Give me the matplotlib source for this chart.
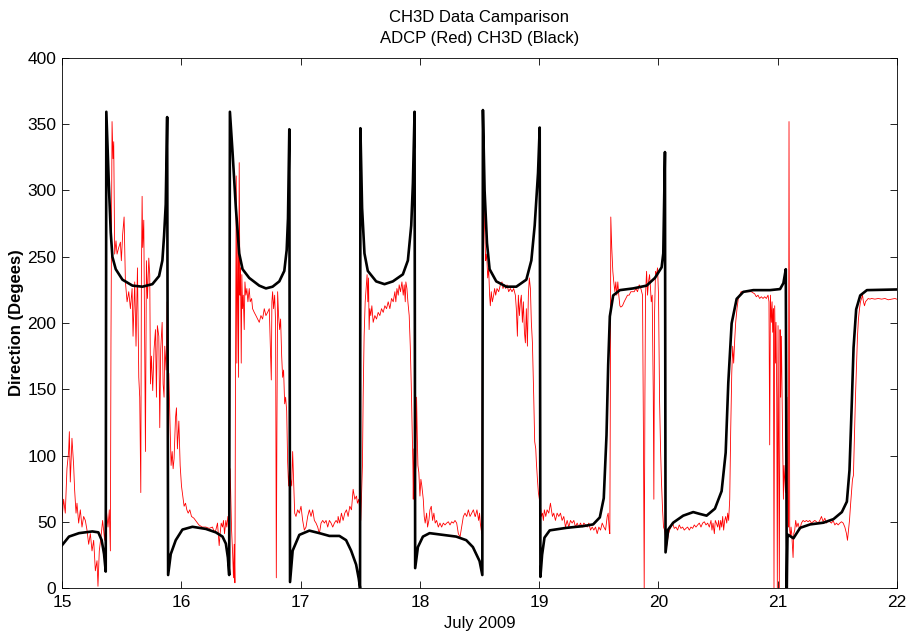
import matplotlib
matplotlib.use("Agg")
import matplotlib.pyplot as plt

plt.rcParams['font.family'] = ['Liberation Sans Narrow', 'Liberation Sans', 'DejaVu Sans']

# CH3D model (black)
black_t = [15.000, 15.059, 15.143, 15.255, 15.305, 15.333, 15.353, 15.367, 15.372, 15.395,
           15.409, 15.423, 15.451, 15.507, 15.591, 15.675, 15.758, 15.814, 15.842, 15.856,
           15.870, 15.882, 15.890, 15.912, 15.954, 16.010, 16.094, 16.206, 16.290, 16.346,
           16.374, 16.391, 16.402, 16.408, 16.430, 16.458, 16.486, 16.514, 16.570, 16.654,
           16.710, 16.766, 16.822, 16.864, 16.884, 16.895, 16.906, 16.912, 16.934, 16.990,
           17.074, 17.158, 17.242, 17.326, 17.382, 17.424, 17.466, 17.488, 17.499, 17.502,
           17.516, 17.536, 17.564, 17.634, 17.704, 17.774, 17.858, 17.900, 17.928, 17.942,
           17.956, 17.961, 17.984, 18.026, 18.082, 18.193, 18.305, 18.389, 18.445, 18.501,
           18.524, 18.529, 18.543, 18.563, 18.585, 18.641, 18.725, 18.809, 18.893, 18.935,
           18.963, 18.991, 19.005, 19.011, 19.025, 19.045, 19.089, 19.229, 19.369, 19.453,
           19.509, 19.542, 19.565, 19.579, 19.593, 19.621, 19.677, 19.789, 19.901, 19.971,
           20.027, 20.041, 20.055, 20.060, 20.082, 20.124, 20.208, 20.292, 20.348, 20.404,
           20.474, 20.530, 20.564, 20.586, 20.614, 20.656, 20.712, 20.796, 20.936, 21.020,
           21.048, 21.068, 21.076, 21.082, 21.090, 21.132, 21.188, 21.272, 21.384, 21.468,
           21.538, 21.580, 21.602, 21.622, 21.636, 21.658, 21.692, 21.748, 22.000]
black_v = [32.2, 38.8, 41.4, 42.7, 42.0, 36.1, 25.6, 12.4, 359.4, 300,
           268.3, 249.9, 240.6, 232.7, 228.2, 227.4, 229.3, 235.4, 247.2, 265.7,
           289.4, 355.4, 9.8, 25.6, 36.1, 44.1, 46.2, 44.6, 42.0, 38.8,
           33.5, 23.0, 9.8, 359.4, 329, 286.8, 252.5, 240.6, 234, 228.2,
           226.1, 227.4, 231.4, 239.3, 255.1, 278.9, 346.2, 4.5, 28.2, 40.1,
           43.3, 41.4, 39.3, 39.3, 36.1, 28.2, 17.7, 7.1, 0, 347,
           286.8, 252.5, 239.3, 231.4, 229.3, 231.4, 236.7, 247.2, 273.6, 305.3,
           359.4, 15.0, 30.9, 38.8, 41.4, 40.1, 38.8, 36.1, 30.9, 20.3,
           9.8, 360.7, 300, 260.4, 240.6, 231.4, 227.4, 227.4, 232.7, 247.2,
           273.6, 313.2, 347.5, 8.4, 25, 38, 43.5, 45.4, 46.7, 48.0,
           53.3, 67.8, 115.3, 168.1, 205, 220.8, 224.8, 226.1, 228.2, 234,
           242, 252.5, 329, 26.9, 44.1, 49.3, 54.6, 57.3, 55.9, 54.6,
           59.9, 73.1, 102.1, 154.9, 199.7, 218.2, 223.5, 224.8, 224.8, 225.6,
           230.1, 240.6, 0, 38, 40.1, 37.5, 45.4, 48, 49.3, 52,
           57.3, 65.2, 88.9, 141.7, 181.3, 210.3, 220.8, 224.8, 225.3]

# ADCP measurements (red)
red_t = [15.000, 15.014, 15.028, 15.042, 15.056, 15.062, 15.070, 15.084, 15.098, 15.106,
         15.118, 15.126, 15.140, 15.154, 15.168, 15.182, 15.196, 15.210, 15.224, 15.238,
         15.252, 15.266, 15.280, 15.294, 15.302, 15.313, 15.330, 15.341, 15.358, 15.372,
         15.386, 15.397, 15.406, 15.411, 15.420, 15.428, 15.434, 15.442, 15.453, 15.462,
         15.476, 15.490, 15.498, 15.509, 15.521, 15.532, 15.546, 15.560, 15.574, 15.588,
         15.596, 15.610, 15.621, 15.633, 15.644, 15.652, 15.661, 15.666, 15.672, 15.677,
         15.686, 15.694, 15.700, 15.708, 15.717, 15.728, 15.736, 15.742, 15.750, 15.761,
         15.772, 15.784, 15.792, 15.800, 15.812, 15.820, 15.828, 15.840, 15.848, 15.856,
         15.862, 15.873, 15.882, 15.887, 15.896, 15.904, 15.915, 15.924, 15.932, 15.940,
         15.952, 15.960, 15.968, 15.980, 15.991, 16.002, 16.013, 16.024, 16.036, 16.047,
         16.058, 16.072, 16.086, 16.106, 16.120, 16.148, 16.176,
         16.206, 16.234, 16.262, 16.276, 16.290, 16.304, 16.318, 16.326, 16.335, 16.346,
         16.354, 16.363, 16.374, 16.382, 16.391, 16.402, 16.410, 16.416, 16.422, 16.430,
         16.438, 16.444, 16.450, 16.455, 16.461, 16.466, 16.475, 16.480, 16.486, 16.492,
         16.497, 16.503, 16.508, 16.514, 16.520, 16.528, 16.534, 16.542, 16.550, 16.559,
         16.570, 16.578, 16.590, 16.598, 16.612, 16.626, 16.640, 16.654, 16.668, 16.682,
         16.696, 16.710, 16.724, 16.738, 16.749, 16.755, 16.760, 16.766, 16.774, 16.783,
         16.791, 16.797, 16.802, 16.808, 16.816, 16.825, 16.833, 16.842, 16.850, 16.858,
         16.867, 16.875, 16.884, 16.892, 16.900, 16.909, 16.917, 16.926, 16.934, 16.942,
         16.951, 16.962, 16.976, 16.990, 17.004, 17.018, 17.032, 17.046, 17.060, 17.074,
         17.088, 17.102, 17.116, 17.130, 17.144, 17.158, 17.172, 17.186, 17.200, 17.214,
         17.228, 17.242, 17.256, 17.270, 17.284, 17.298, 17.312,
         17.315, 17.329, 17.343, 17.357, 17.371, 17.385, 17.399, 17.413, 17.427, 17.441,
         17.455, 17.469, 17.477, 17.488, 17.497, 17.505, 17.511, 17.519, 17.525, 17.533,
         17.542, 17.550, 17.558, 17.564, 17.570, 17.575, 17.581, 17.589, 17.598, 17.609,
         17.623, 17.637, 17.651, 17.665, 17.679, 17.693, 17.707, 17.721, 17.735, 17.749,
         17.763, 17.777, 17.791, 17.799, 17.808, 17.819, 17.827, 17.838, 17.850, 17.861,
         17.869, 17.878, 17.883, 17.892, 17.900, 17.911, 17.920, 17.928, 17.936, 17.942,
         17.945, 17.950, 17.956, 17.962, 17.967, 17.973, 17.978, 17.984, 17.992, 18.001,
         18.009, 18.017, 18.029, 18.037, 18.045, 18.057, 18.065, 18.076, 18.085, 18.096,
         18.107, 18.118, 18.129, 18.141, 18.155, 18.169, 18.183, 18.197, 18.211, 18.225,
         18.239, 18.253, 18.267, 18.281, 18.295, 18.309, 18.323, 18.337, 18.351, 18.365,
         18.379, 18.393, 18.407, 18.421, 18.435, 18.449, 18.463,
         18.465, 18.479, 18.493, 18.501, 18.507, 18.515, 18.521, 18.527, 18.532, 18.538,
         18.543, 18.552, 18.557, 18.563, 18.569, 18.577, 18.585, 18.591, 18.599, 18.608,
         18.619, 18.627, 18.636, 18.647, 18.661, 18.675, 18.689, 18.697, 18.709, 18.720,
         18.731, 18.745, 18.759, 18.773, 18.787, 18.801, 18.809, 18.818, 18.826, 18.835,
         18.843, 18.851, 18.860, 18.868, 18.877, 18.885, 18.893, 18.902, 18.910, 18.918,
         18.927, 18.935, 18.944, 18.955, 18.963, 18.972, 18.977, 18.986, 18.994, 19.002,
         19.011, 19.019, 19.028, 19.036, 19.044, 19.056, 19.067, 19.081, 19.095, 19.103,
         19.112, 19.123, 19.137, 19.151, 19.165, 19.179, 19.193, 19.207, 19.221, 19.235,
         19.249, 19.263, 19.277, 19.291, 19.305, 19.319, 19.333, 19.347, 19.361, 19.375,
         19.389, 19.403, 19.417, 19.431, 19.445, 19.459, 19.473, 19.487, 19.501, 19.515,
         19.529, 19.543, 19.557, 19.571, 19.579, 19.588, 19.593, 19.597,
         19.601, 19.609, 19.618, 19.626, 19.635, 19.643, 19.651, 19.660, 19.668, 19.677,
         19.685, 19.699, 19.713, 19.727, 19.741, 19.755, 19.769, 19.783, 19.797, 19.811,
         19.825, 19.839, 19.853, 19.867, 19.875, 19.881, 19.887, 19.892, 19.901, 19.909,
         19.917, 19.926, 19.934, 19.940, 19.948, 19.957, 19.962, 19.968, 19.976, 19.984,
         19.993, 20.001, 20.010, 20.018, 20.026, 20.035, 20.043, 20.052, 20.060, 20.068,
         20.077, 20.085, 20.094, 20.105, 20.119, 20.133, 20.147, 20.161, 20.175, 20.189,
         20.203, 20.217, 20.231, 20.245, 20.259, 20.273, 20.287, 20.301, 20.315, 20.329,
         20.343, 20.357, 20.371, 20.385, 20.399, 20.413, 20.427, 20.441, 20.449, 20.458,
         20.469, 20.477, 20.486, 20.497, 20.505, 20.514, 20.522, 20.531, 20.539, 20.547,
         20.556, 20.564, 20.573, 20.581, 20.589, 20.598, 20.606, 20.615, 20.623, 20.631,
         20.640, 20.648, 20.659, 20.670, 20.682, 20.693, 20.721, 20.749,
         20.779, 20.807, 20.821, 20.835, 20.849, 20.863, 20.877, 20.891, 20.905, 20.919,
         20.927, 20.933, 20.939, 20.947, 20.953, 20.958, 20.964, 20.969, 20.975, 20.981,
         20.986, 20.992, 20.997, 21.003, 21.009, 21.014, 21.020, 21.025, 21.031, 21.037,
         21.042, 21.048, 21.053, 21.059, 21.065, 21.070, 21.078, 21.084, 21.090, 21.095,
         21.101, 21.107, 21.112, 21.118, 21.123, 21.129, 21.135, 21.143, 21.151, 21.160,
         21.171, 21.185, 21.199, 21.213, 21.227, 21.241, 21.255, 21.269, 21.283, 21.297,
         21.311, 21.325, 21.339, 21.353, 21.367, 21.381, 21.395, 21.409, 21.423, 21.437,
         21.451, 21.465, 21.479, 21.493, 21.507, 21.521, 21.535, 21.549, 21.563, 21.577,
         21.585, 21.594, 21.602, 21.610, 21.619, 21.627, 21.635, 21.644, 21.652, 21.661,
         21.669, 21.677, 21.686, 21.694, 21.703, 21.711, 21.719, 21.728, 21.736, 21.745,
         21.759, 21.773, 21.787, 21.815, 21.843, 21.871, 21.899, 21.927, 21.955, 21.983,
         21.997]
red_v = [51, 67, 56.5, 90, 103, 118, 80, 113, 92.5, 74.5,
         56.5, 64, 49, 59, 46, 54, 51, 43.7, 33, 41,
         28, 36, 13, 20.6, 1.3, 28, 41, 51, 36, 59,
         46, 59, 28, 187.6, 352, 324, 336.8, 252, 262, 252,
         257, 261, 247, 267, 280, 231, 216, 223.6, 210.8, 226,
         190, 231, 182.5, 241.6, 159, 144, 72, 234, 295.6, 257,
         277.6, 182.5, 103, 247, 218.5, 249, 236.5, 154, 175, 149,
         180, 195, 144, 198, 190, 121, 180, 200.5, 154, 144,
         182.5, 164.5, 216, 144, 162, 131, 92.5, 103, 90, 97.7,
         128.5, 136, 105, 126, 92.5, 77, 69.4, 61.7, 64, 59,
         56.5, 59, 54, 52.7, 51, 47.6, 46,
         46, 45, 46, 42.4, 43.7, 49, 32, 41, 49, 46,
         51, 41, 51, 46, 54, 43.7, 90, 67, 43.7, 28,
         7.7, 33, 3.9, 162, 311, 169.7, 270, 159, 321, 221,
         241.6, 169.7, 236.5, 210.8, 221, 195, 231, 221, 226, 216,
         226, 216, 218.5, 210.8, 208, 205.6, 203, 200.5, 205.6, 203,
         210.8, 205.6, 208, 210.8, 177, 157, 216, 223.6, 210.8, 221,
         200.5, 7.7, 118, 223.6, 205.6, 195, 203, 175, 159, 164.5,
         139, 144, 133.7, 95, 77, 92.5, 82, 77, 103, 82,
         56.5, 54, 59, 56.5, 61.7, 51, 43.7, 46, 54, 59,
         54, 59, 51, 49, 46, 41, 49, 51, 49, 51,
         46, 51, 49, 46, 49, 51, 49,
         54, 49, 56.5, 51, 56.5, 59, 54, 61.7, 59, 74.5,
         67, 69.4, 64, 67, 59, 51, 69.4, 92.5, 144, 190,
         216, 226, 236.5, 216, 234, 195, 210.8, 205.6, 213, 200.5,
         205.6, 203, 208, 205.6, 210.8, 208, 213, 210.8, 216, 210.8,
         218.5, 216, 223.6, 216, 226, 221, 228.8, 223.6, 231, 221,
         228.8, 216, 231, 226, 216, 205.6, 182.5, 154, 121, 92.5,
         67, 105, 72, 85, 92.5, 144, 118, 92.5, 87, 69.4,
         82, 77, 67, 54, 49, 56.5, 46, 51, 59, 61.7,
         51, 56.5, 49, 51, 46, 49, 46, 49, 47.6, 49,
         50, 47.6, 50, 49, 51, 49, 41, 38.5, 46, 54,
         56.5, 54, 59, 54, 56.5, 59, 54,
         54, 59, 51, 56.5, 49, 43.7, 41, 354.8, 298, 324,
         272.5, 247, 252, 247, 234, 241.6, 221, 213, 223.6, 216,
         221, 226, 221, 226, 223.6, 228.8, 231, 226, 228.8, 226,
         228.8, 223.6, 226, 223.6, 226, 221, 210.8, 190, 221, 205.6,
         216, 221, 200.5, 216, 193, 185, 210.8, 182.5, 221, 234,
         226, 200.5, 185, 144, 110.5, 105, 95, 82, 72, 67,
         61.7, 54, 56.5, 51, 59, 54, 59, 56.5, 64, 59,
         54, 56.5, 51, 56.5, 54, 56.5, 51, 54, 46, 51,
         46, 51, 49, 51, 46, 49, 46, 49, 46, 49,
         47.6, 46, 49, 43.7, 46, 43.7, 46, 41, 46, 43.7,
         49, 46, 43.7, 54, 56.5, 43.7, 41, 144,
         280, 257, 239, 231, 223.6, 231, 221, 231, 221, 213,
         212, 213, 216, 218.5, 221, 221, 223.6, 223.6, 223.6, 226,
         223.6, 228.8, 226, 221, 110.5, 0, 144, 221, 239, 221,
         231, 236.5, 226, 216, 221, 146.5, 67, 208, 239, 236.5,
         241.6, 221, 141, 105, 79.7, 59, 46, 43.7, 38.5, 30.8,
         36, 41, 43.7, 46, 49, 45, 46, 43.7, 47.6, 45,
         46, 43.7, 45, 46, 43.7, 46, 45, 47.6, 46, 47.6,
         49, 46, 49, 50, 47.6, 49, 46, 51, 43.7, 49,
         41, 51, 49, 46, 51, 43.7, 51, 46, 54, 43.7,
         51, 54, 49, 56.5, 51, 67, 118, 162, 182.5, 169.7,
         187.6, 200.5, 210.8, 218.5, 221, 223.6, 223.6, 223.6,
         223.6, 222, 219.8, 221, 218.5, 219.8, 218.5, 219.8, 218.5, 221,
         216, 108, 221, 200.5, 216, 193, 210.8, 0, 213, 169.7,
         200.5, 144, 0, 198, 97.7, 0, 195, 144, 190, 144,
         108, 67, 92.5, 82, 72, 92.5, 144, 67, 46, 352,
         43.7, 38.5, 46, 41, 33.4, 23, 41, 43.7, 51, 46,
         49, 43.7, 49, 51, 50, 51, 50, 51, 49, 50,
         51, 50, 49, 51, 54, 50, 52.7, 49, 51, 50,
         49, 51, 47.6, 49, 47.6, 49, 50, 49, 46, 41,
         36, 43.7, 51, 61.7, 72, 82, 85, 118, 144, 169.7,
         190, 203, 210.8, 216, 218.5, 221, 216, 213, 216, 217,
         218.5, 218, 218.5, 218, 218.5, 218, 218.5, 217.5, 218, 218.5,
         218]

xticks = [15, 16, 17, 18, 19, 20, 21, 22]
yticks = [0, 50, 100, 150, 200, 250, 300, 350, 400]

fig = plt.figure(figsize=(9.11, 6.35), dpi=100)
ax = fig.add_axes([0.068, 0.074, 0.9166, 0.8347])
ax.plot(red_t, red_v, color='#ff0000', linewidth=0.6)
ax.plot(black_t, black_v, color='black', linewidth=1.9)
ax.set_xlim(15, 22)
ax.set_ylim(0, 400)
ax.set_xticks(xticks)
ax.set_yticks(yticks)
ax.tick_params(direction='in', top=True, right=True, length=5, width=0.6,
               labelsize=12.5)
ax.tick_params(axis='x', pad=5)
ax.tick_params(axis='y', pad=4)
for s in ax.spines.values():
    s.set_linewidth(0.6)
ax.set_xlabel('July 2009', fontsize=12, labelpad=4)
ax.set_ylabel('Direction (Degees)', fontsize=12, fontweight='bold', labelpad=2)
ax.set_title('CH3D Data Camparison\nADCP (Red) CH3D (Black)', fontsize=12, pad=11,
             linespacing=1.45)
fig.savefig('out.png', dpi=100)
